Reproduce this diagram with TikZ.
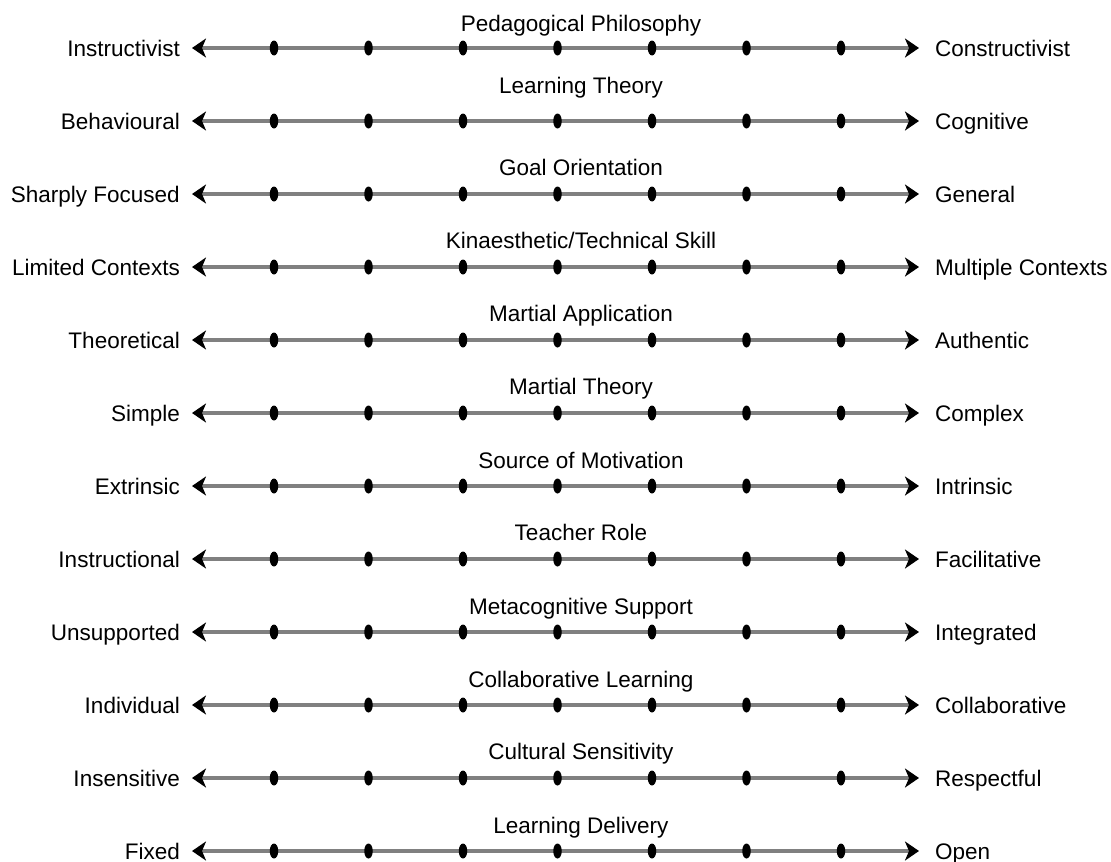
\documentclass[tikz,border=0pt]{standalone}
\usepackage{fontspec}
\setmainfont{Liberation Sans}
\usetikzlibrary{arrows.meta,shapes.geometric}
\definecolor{axisgray}{RGB}{128,128,128}
\tikzset{
  scaleline/.style={draw=axisgray, line width=3.5pt, {Stealth[length=14pt,width=19pt,inset=4pt,color=black]}-{Stealth[length=14pt,width=19pt,inset=4pt,color=black]}},
  tick/.style={ellipse, fill=black, inner sep=0pt, minimum width=8.5pt, minimum height=15pt},
  lbl/.style={font=\fontsize{22.5}{26}\selectfont, inner sep=0pt},
  endl/.style={lbl, anchor=base east},
  endr/.style={lbl, anchor=base west},
  ttl/.style={lbl, anchor=base},
}
\begin{document}
\begin{tikzpicture}[x=1pt,y=-1pt]
\useasboundingbox (0,0) rectangle (1111,862);
% title / left pole / right pole / gap between title baseline and scale
\foreach \t/\l/\r/\g [count=\i] in {
  Pedagogical Philosophy/Instructivist/Constructivist/17,
  Learning Theory/Behavioural/Cognitive/28,
  Goal Orientation/Sharply Focused/General/19,
  Kinaesthetic\slash Technical Skill/Limited Contexts/Multiple Contexts/19,
  Martial Application/Theoretical/Authentic/19,
  Martial Theory/Simple/Complex/19,
  Source of Motivation/Extrinsic/Intrinsic/18,
  Teacher Role/Instructional/Facilitative/19,
  Metacognitive Support/Unsupported/Integrated/18,
  Collaborative Learning/Individual/Collaborative/18,
  Cultural Sensitivity/Insensitive/Respectful/19,
  Learning Delivery/Fixed/Open/18}{
  \pgfmathsetmacro{\yy}{48+73*(\i-1)}
  \coordinate (L\i) at (192,\yy);
  \coordinate (R\i) at (919,\yy);
  \draw[scaleline] (L\i) -- (R\i);
  \foreach \k in {0,...,6}{
    \node[tick] (d\i-\k) at ({274+94.5*\k},\yy) {};
  }
  \node[ttl] (t\i) at (581,\yy-\g) {\t};
  \node[endl] (a\i) at (180,\yy+8) {\l};
  \node[endr] (b\i) at (935,\yy+8) {\r};
}
\end{tikzpicture}
\end{document}
